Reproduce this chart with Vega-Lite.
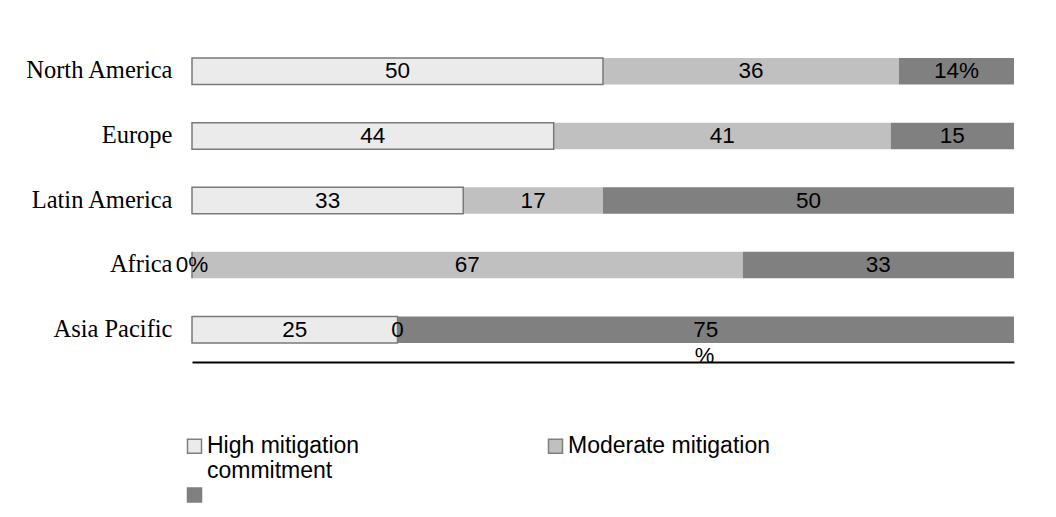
{
  "$schema": "https://vega.github.io/schema/vega-lite/v6.json",
  "autosize": "none",
  "width": 822,
  "height": 323,
  "padding": {"left": 192, "top": 39, "right": 42, "bottom": 155},
  "background": "white",
  "config": {"view": {"stroke": null}},
  "data": {
    "values": [
      {"region": "North America", "series": "High mitigation commitment", "level": 1, "value": 50, "label": "50"},
      {"region": "North America", "series": "Moderate mitigation", "level": 2, "value": 36, "label": "36"},
      {"region": "North America", "series": "Low mitigation commitment", "level": 3, "value": 14, "label": "14%"},
      {"region": "Europe", "series": "High mitigation commitment", "level": 1, "value": 44, "label": "44"},
      {"region": "Europe", "series": "Moderate mitigation", "level": 2, "value": 41, "label": "41"},
      {"region": "Europe", "series": "Low mitigation commitment", "level": 3, "value": 15, "label": "15"},
      {"region": "Latin America", "series": "High mitigation commitment", "level": 1, "value": 33, "label": "33"},
      {"region": "Latin America", "series": "Moderate mitigation", "level": 2, "value": 17, "label": "17"},
      {"region": "Latin America", "series": "Low mitigation commitment", "level": 3, "value": 50, "label": "50"},
      {"region": "Africa", "series": "High mitigation commitment", "level": 1, "value": 0, "label": "0%"},
      {"region": "Africa", "series": "Moderate mitigation", "level": 2, "value": 67, "label": "67"},
      {"region": "Africa", "series": "Low mitigation commitment", "level": 3, "value": 33, "label": "33"},
      {"region": "Asia Pacific", "series": "High mitigation commitment", "level": 1, "value": 25, "label": "25"},
      {"region": "Asia Pacific", "series": "Moderate mitigation", "level": 2, "value": 0, "label": "0"},
      {"region": "Asia Pacific", "series": "Low mitigation commitment", "level": 3, "value": 75, "label": "75"}
    ]
  },
  "encoding": {
    "y": {
      "field": "region",
      "type": "nominal",
      "sort": null,
      "scale": {"paddingInner": 0.59, "paddingOuter": 0.295},
      "axis": {
        "title": null,
        "domain": false,
        "ticks": false,
        "labelFont": "Liberation Serif",
        "labelFontSize": 24.5,
        "labelColor": "black",
        "labelPadding": 20
      }
    }
  },
  "layer": [
    {
      "mark": {"type": "bar"},
      "encoding": {
        "x": {
          "field": "value",
          "type": "quantitative",
          "stack": "zero",
          "scale": {"domain": [0, 100]},
          "axis": {
            "title": "%",
            "labels": false,
            "ticks": false,
            "grid": false,
            "domainColor": "black",
            "domainWidth": 2,
            "titleFont": "Liberation Sans",
            "titleFontSize": 22,
            "titleFontWeight": "normal",
            "titleColor": "black",
            "titleX": 512,
            "titleY": 0,
            "titleBaseline": "alphabetic"
          }
        },
        "order": {"field": "level", "type": "quantitative"},
        "color": {
          "field": "series",
          "type": "nominal",
          "scale": {
            "domain": ["High mitigation commitment", "Moderate mitigation", "Low mitigation commitment"],
            "range": ["#ebebeb", "#c0c0c0", "#808080"]
          },
          "legend": {
            "title": null,
            "orient": "none",
            "legendX": -9,
            "legendY": 395.5,
            "columns": 2,
            "direction": "horizontal",
            "columnPadding": 184,
            "rowPadding": -9,
            "symbolType": "square",
            "symbolSize": 196,
            "symbolStrokeColor": "#7f7f7f",
            "symbolStrokeWidth": 1.5,
            "labelFont": "Liberation Sans",
            "labelFontSize": 23,
            "labelColor": "black",
            "labelOffset": 1,
            "labelLimit": 400,
            "labelExpr": "datum.label == 'High mitigation commitment' ? ['High mitigation', 'commitment'] : (datum.label == 'Low mitigation commitment' ? '' : [datum.label, ' '])",
            "encode": {
              "symbols": {
                "update": {
                  "stroke": {"value": "#7f7f7f"},
                  "strokeWidth": {"value": 1.5}
                }
              }
            }
          }
        }
      }
    },
    {
      "transform": [{"filter": "datum.level == 1"}],
      "mark": {"type": "bar", "fillOpacity": 0, "stroke": "#7a7a7a", "strokeWidth": 1.5},
      "encoding": {
        "x": {"field": "value", "type": "quantitative", "stack": "zero"}
      }
    },
    {
      "mark": {"type": "text", "font": "Liberation Sans", "fontSize": 22.5, "color": "black", "baseline": "middle"},
      "encoding": {
        "x": {"field": "value", "type": "quantitative", "stack": "zero", "bandPosition": 0.5},
        "order": {"field": "level", "type": "quantitative"},
        "detail": {"field": "series", "type": "nominal"},
        "text": {"field": "label", "type": "nominal"}
      }
    }
  ]
}
